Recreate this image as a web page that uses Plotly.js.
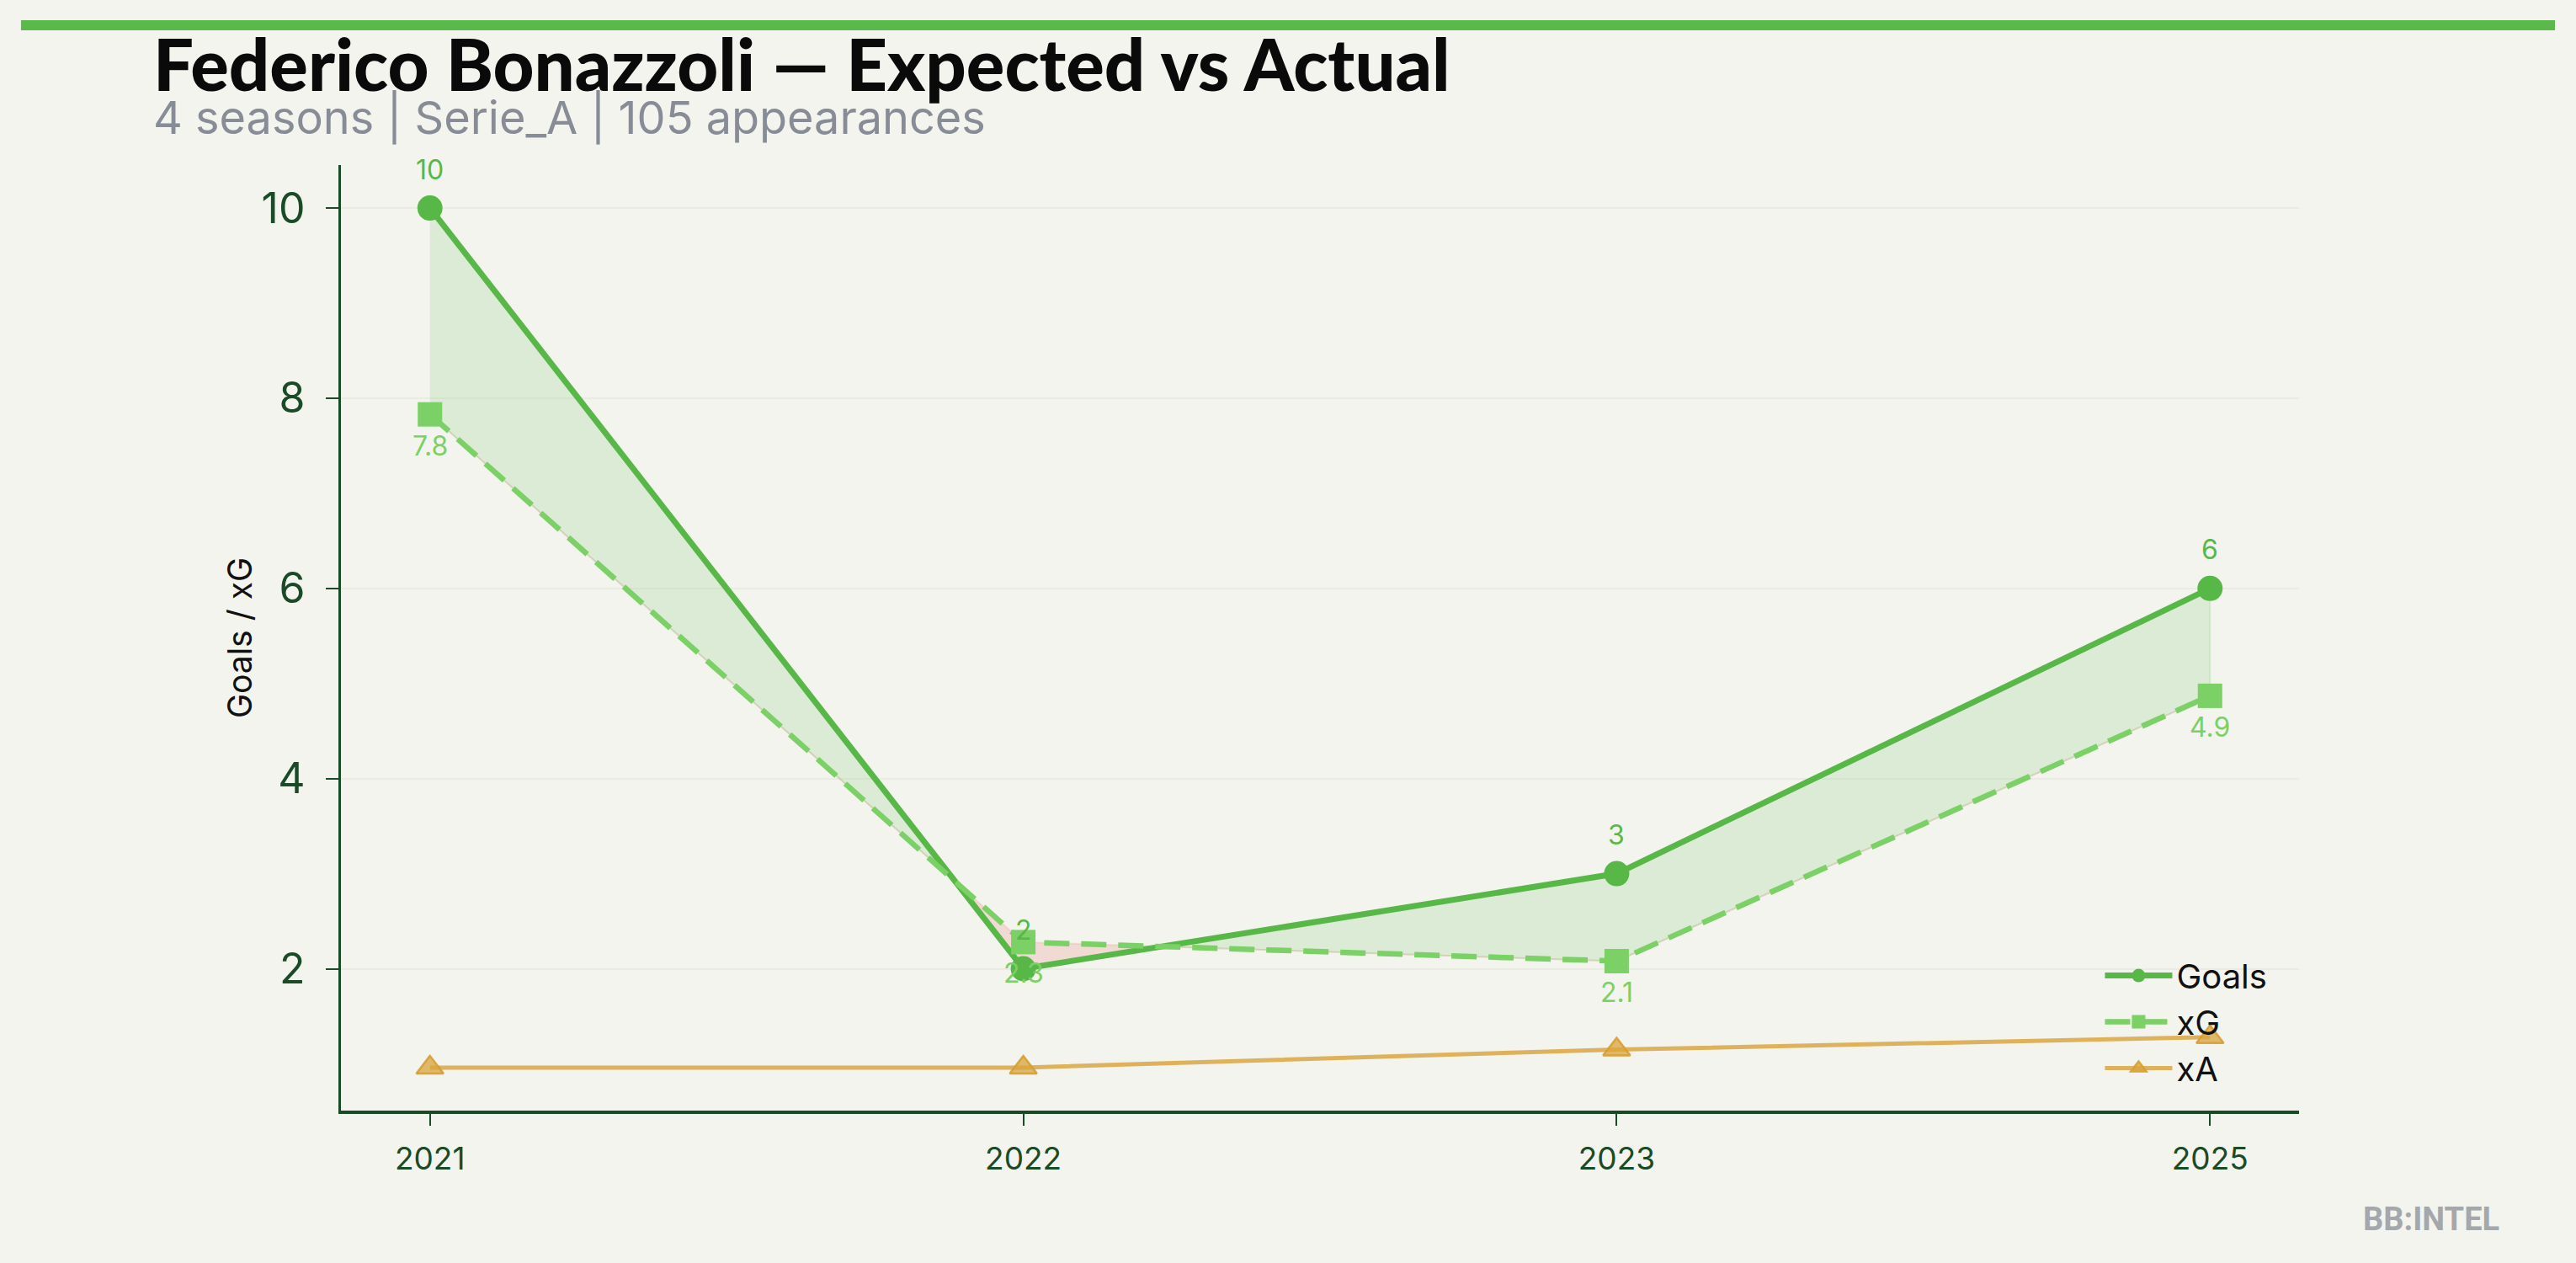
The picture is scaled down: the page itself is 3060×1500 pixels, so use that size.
<!DOCTYPE html>
<html>
<head>
<meta charset="utf-8">
<script src="https://cdn.plot.ly/plotly-3.0.1.min.js"></script>
<style>
  html, body { margin: 0; padding: 0; background: #f3f4ee; }
  #chart { width: 3060px; height: 1500px; }
</style>
</head>
<body>
<div id="chart"></div>
<script>
// ---- data ----
const seasons = ['2021', '2022', '2023', '2025'];
const goals = [10, 2, 3, 6];
const xG = [7.83, 2.28, 2.08, 4.87];
const xA = [0.96, 0.96, 1.15, 1.28];

const titleText = 'Federico Bonazzoli — Expected vs Actual';
const subtitleText = '4 seasons | Serie_A | 105 appearances';
const yTitle = 'Goals / xG';
const watermark = 'BB:INTEL';

// ---- colours ----
const BG = '#f3f4ee';
const C_GOALS = '#58b847';
const C_XG = '#7bd066';
const C_XA = 'rgba(217,164,60,0.82)';
const AXIS = '#1b4a26';

const idx = seasons.map((_, i) => i);

// refine points: insert crossing points between goals and xG
const rx = [], rg = [], rxg = [];
for (let i = 0; i < idx.length; i++) {
  rx.push(idx[i]); rg.push(goals[i]); rxg.push(xG[i]);
  if (i < idx.length - 1) {
    const d0 = goals[i] - xG[i], d1 = goals[i + 1] - xG[i + 1];
    if (d0 * d1 < 0) {
      const t = d0 / (d0 - d1);
      const yc = goals[i] + t * (goals[i + 1] - goals[i]);
      rx.push(idx[i] + t * (idx[i + 1] - idx[i])); rg.push(yc); rxg.push(yc);
    }
  }
}
const lowerMin = rg.map((g, i) => Math.min(g, rxg[i]));
const revX = rx.slice().reverse();

const fillPos = {
  x: rx.concat(revX),
  y: rg.concat(lowerMin.slice().reverse()),
  type: 'scatter', mode: 'lines', fill: 'toself',
  fillcolor: 'rgba(90,185,74,0.15)',
  line: { width: 2, color: 'rgba(90,185,74,0.15)' },
  hoverinfo: 'skip', showlegend: false
};
const fillNeg = {
  x: rx.concat(revX),
  y: rxg.concat(lowerMin.slice().reverse()),
  type: 'scatter', mode: 'lines', fill: 'toself',
  fillcolor: 'rgba(231,76,60,0.15)',
  line: { width: 2, color: 'rgba(231,76,60,0.12)' },
  hoverinfo: 'skip', showlegend: false
};

const tGoals = {
  x: idx, y: goals, name: 'Goals', type: 'scatter', mode: 'lines+markers',
  line: { color: C_GOALS, width: 7 },
  marker: { symbol: 'circle', size: 30, color: C_GOALS }
};
const tXG = {
  x: idx, y: xG, name: 'xG', type: 'scatter', mode: 'lines+markers',
  line: { color: C_XG, width: 6.5, dash: '30px,14px' },
  marker: { symbol: 'square', size: 29, color: C_XG }
};
const tXA = {
  x: idx, y: xA, name: 'xA', type: 'scatter', mode: 'lines+markers',
  line: { color: C_XA, width: 5 },
  marker: { symbol: 'triangle-up', size: 28, color: 'rgba(217,164,60,0.75)',
            line: { color: 'rgba(214,158,50,0.9)', width: 2.5 } }
};

const FONT = 'Inter, "Noto Sans", sans-serif';

const annotations = [];
goals.forEach((v, i) => annotations.push({
  x: idx[i], y: v, xref: 'x', yref: 'y', text: String(v), showarrow: false,
  yshift: 46, font: { family: FONT, size: 32, color: C_GOALS }
}));
xG.forEach((v, i) => annotations.push({
  x: idx[i], y: v, xref: 'x', yref: 'y', text: v.toFixed(1), showarrow: false,
  yshift: -37, font: { family: FONT, size: 32, color: C_XG }
}));
annotations.push({
  xref: 'paper', yref: 'paper', x: -0.0967, y: 1.108, xanchor: 'left', yanchor: 'middle',
  text: titleText, showarrow: false,
  font: { family: 'Lato, "DejaVu Sans", sans-serif', size: 85, weight: 900, color: '#0a0a0a' }
});
annotations.push({
  xref: 'paper', yref: 'paper', x: -0.0967, y: 1.050, xanchor: 'left', yanchor: 'middle',
  text: subtitleText, showarrow: false,
  font: { family: FONT, size: 54, color: '#878c96' }
});
annotations.push({
  xref: 'paper', yref: 'paper', x: 1.0675, y: -0.115, xanchor: 'center', yanchor: 'middle',
  text: watermark, showarrow: false,
  font: { family: 'Roboto, sans-serif', size: 38, weight: 700, color: '#a4a7ab' }
});

const layout = {
  width: 3060, height: 1500,
  paper_bgcolor: BG, plot_bgcolor: BG,
  margin: { l: 405, r: 329, t: 196, b: 181, pad: 0 },
  showlegend: true,
  legend: {
    x: 0.986, xanchor: 'right', y: 0.016, yanchor: 'bottom',
    bgcolor: 'rgba(0,0,0,0)', font: { family: FONT, size: 40, color: '#111111' },
    itemwidth: 80, tracegroupgap: 0
  },
  xaxis: {
    range: [-0.15, 3.15], tickvals: idx, ticktext: seasons,
    showgrid: false, zeroline: false, showline: true, linecolor: AXIS, linewidth: 3.5,
    ticks: 'outside', ticklen: 14, tickwidth: 2, tickcolor: AXIS,
    tickfont: { family: FONT, size: 37, color: AXIS }, ticklabelstandoff: 8
  },
  yaxis: {
    range: [0.508, 10.452], tickvals: [2, 4, 6, 8, 10],
    showgrid: true, gridcolor: '#eaece4', gridwidth: 2,
    zeroline: false, showline: true, linecolor: AXIS, linewidth: 3.5,
    ticks: 'outside', ticklen: 15, tickwidth: 2, tickcolor: AXIS,
    tickfont: { family: FONT, size: 50, color: AXIS }, ticklabelstandoff: 14,
    title: { text: yTitle, font: { family: FONT, size: 39, color: '#111111' }, standoff: 0 }
  },
  shapes: [{
    type: 'rect', xref: 'paper', yref: 'paper',
    x0: -0.1634, x1: 1.1307, y0: 1.1425, y1: 1.1532,
    fillcolor: '#5ab94a', line: { width: 0 }
  }],
  annotations: annotations
};

Plotly.newPlot('chart', [fillPos, fillNeg, tGoals, tXG, tXA], layout, { displayModeBar: false, staticPlot: true });
</script>
</body>
</html>
